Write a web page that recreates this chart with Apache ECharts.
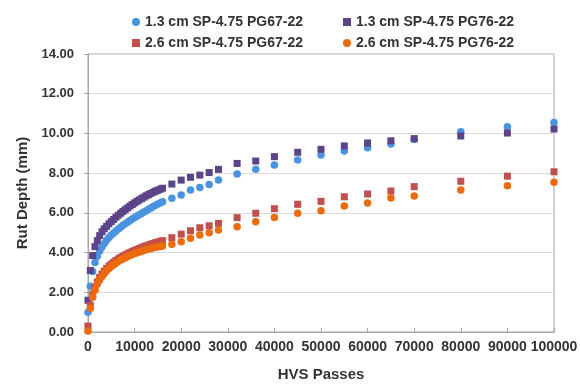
<!DOCTYPE html>
<html>
<head>
<meta charset="utf-8">
<script src="https://cdn.jsdelivr.net/npm/echarts@6/dist/echarts.min.js"></script>
<style>
  html, body { margin: 0; padding: 0; background: #fff; }
  #chart { width: 580px; height: 384px; }
</style>
</head>
<body>
<div id="chart"></div>
<script>
// HVS passes (x)
var passes = [0, 500, 1000, 1500, 2000, 2500, 3000, 3500, 4000, 4500, 5000, 5500, 6000, 6500, 7000, 7500,
  8000, 8500, 9000, 9500, 10000, 10500, 11000, 11500, 12000, 12500, 13000, 13500, 14000, 14500, 15000, 15500,
  16000, 18000, 20000, 22000, 24000, 26000, 28000, 32000, 36000, 40000, 45000, 50000, 55000, 60000, 65000,
  70000, 80000, 90000, 100000];

// rut depth (mm)
var rut13_67 = [1.00, 2.30, 3.05, 3.50, 3.82, 4.08, 4.28, 4.46, 4.62, 4.76, 4.88, 4.99, 5.09, 5.19, 5.28, 5.37,
  5.45, 5.53, 5.61, 5.69, 5.76, 5.83, 5.90, 5.97, 6.04, 6.11, 6.18, 6.25, 6.32, 6.38, 6.44, 6.50,
  6.56, 6.73, 6.90, 7.15, 7.28, 7.43, 7.65, 7.96, 8.19, 8.41, 8.66, 8.91, 9.11, 9.28, 9.47,
  9.70, 10.09, 10.34, 10.55];
var rut13_76 = [1.60, 3.10, 3.85, 4.30, 4.60, 4.85, 5.05, 5.20, 5.32, 5.45, 5.56, 5.67, 5.78, 5.88, 5.98, 6.07,
  6.16, 6.25, 6.34, 6.42, 6.50, 6.58, 6.65, 6.72, 6.79, 6.86, 6.92, 6.98, 7.04, 7.09, 7.14, 7.19,
  7.24, 7.45, 7.65, 7.79, 7.90, 8.03, 8.19, 8.49, 8.61, 8.83, 9.05, 9.20, 9.37, 9.52, 9.63,
  9.74, 9.87, 10.02, 10.22];
var rut26_67 = [0.30, 1.35, 1.90, 2.25, 2.52, 2.74, 2.92, 3.07, 3.20, 3.32, 3.42, 3.51, 3.60, 3.68, 3.75, 3.82,
  3.88, 3.94, 4.00, 4.05, 4.10, 4.15, 4.20, 4.25, 4.30, 4.34, 4.38, 4.42, 4.46, 4.50, 4.53, 4.56,
  4.60, 4.75, 4.93, 5.10, 5.25, 5.35, 5.47, 5.76, 5.98, 6.21, 6.43, 6.58, 6.81, 6.95, 7.10,
  7.32, 7.59, 7.85, 8.07];
var rut26_76 = [0.05, 1.20, 1.75, 2.10, 2.40, 2.62, 2.80, 2.95, 3.08, 3.20, 3.30, 3.39, 3.47, 3.55, 3.62, 3.68,
  3.74, 3.80, 3.85, 3.90, 3.95, 3.99, 4.03, 4.07, 4.11, 4.15, 4.18, 4.21, 4.24, 4.27, 4.29, 4.31,
  4.33, 4.42, 4.55, 4.72, 4.88, 5.00, 5.14, 5.30, 5.55, 5.76, 5.98, 6.11, 6.34, 6.50, 6.75,
  6.85, 7.15, 7.37, 7.54];

var names = ['1.3 cm SP-4.75 PG67-22', '1.3 cm SP-4.75 PG76-22', '2.6 cm SP-4.75 PG67-22', '2.6 cm SP-4.75 PG76-22'];

function pairs(ys) {
  return passes.map(function (x, i) { return [x, ys[i]]; });
}

var chart = echarts.init(document.getElementById('chart'), null, { renderer: 'canvas' });

var txt = '#333';
var font = 'Liberation Sans, Arial, sans-serif';

var legendBase = {
  left: 127,
  itemWidth: 8,
  itemHeight: 8,
  itemGap: 40,
  textStyle: { color: txt, fontFamily: font, fontWeight: 'bold', fontSize: 14 }
};

var option = {
  animation: false,
  backgroundColor: '#fff',
  legend: [
    Object.assign({}, legendBase, { top: 10, data: [
      { name: names[0], icon: 'circle' },
      { name: names[1], icon: 'rect' }
    ] }),
    Object.assign({}, legendBase, { top: 31, data: [
      { name: names[2], icon: 'rect' },
      { name: names[3], icon: 'circle' }
    ] })
  ],
  grid: {
    left: 88, right: 26, top: 54, bottom: 52,
    outerBoundsMode: 'none',
    show: true, borderColor: '#a6a6a6', borderWidth: 1
  },
  xAxis: {
    type: 'value',
    min: 0, max: 100000, interval: 10000,
    name: 'HVS Passes',
    nameLocation: 'middle',
    nameGap: 35,
    nameTextStyle: { color: txt, fontFamily: font, fontWeight: 'bold', fontSize: 15 },
    axisLine: { lineStyle: { color: '#a6a6a6' } },
    axisTick: { show: true, inside: true, length: 4, lineStyle: { color: '#a6a6a6' } },
    axisLabel: {
      color: txt, fontFamily: font, fontWeight: 'bold', fontSize: 14, margin: 8,
      showMinLabel: true, showMaxLabel: true, hideOverlap: false,
      formatter: function (v) { return String(v); }
    },
    splitLine: { show: false }
  },
  yAxis: {
    type: 'value',
    min: 0, max: 14, interval: 2,
    name: 'Rut Depth (mm)',
    nameLocation: 'middle',
    nameGap: 42,
    nameTextStyle: { color: txt, fontFamily: font, fontWeight: 'bold', fontSize: 15 },
    axisLine: { show: true, lineStyle: { color: '#a6a6a6' } },
    axisTick: { show: true, length: 4, lineStyle: { color: '#a6a6a6' } },
    axisLabel: {
      color: txt, fontFamily: font, fontWeight: 'bold', fontSize: 13, margin: 14,
      formatter: function (v) { return v.toFixed(2); }
    },
    splitLine: { lineStyle: { color: '#d9d9d9' } }
  },
  // order: blue, purple, red, orange (later ones drawn on top)
  series: [
    { name: names[0], type: 'scatter', symbol: 'circle', symbolSize: 7.5, itemStyle: { color: '#4a93e0', opacity: 1 }, data: pairs(rut13_67) },
    { name: names[1], type: 'scatter', symbol: 'rect', symbolSize: 7, itemStyle: { color: '#5c4488', opacity: 1 }, data: pairs(rut13_76) },
    { name: names[2], type: 'scatter', symbol: 'rect', symbolSize: 7, itemStyle: { color: '#c0504d', opacity: 1 }, data: pairs(rut26_67) },
    { name: names[3], type: 'scatter', symbol: 'circle', symbolSize: 7.5, itemStyle: { color: '#ec6b0c', opacity: 1 }, data: pairs(rut26_76) }
  ]
};

chart.setOption(option);
</script>
</body>
</html>
